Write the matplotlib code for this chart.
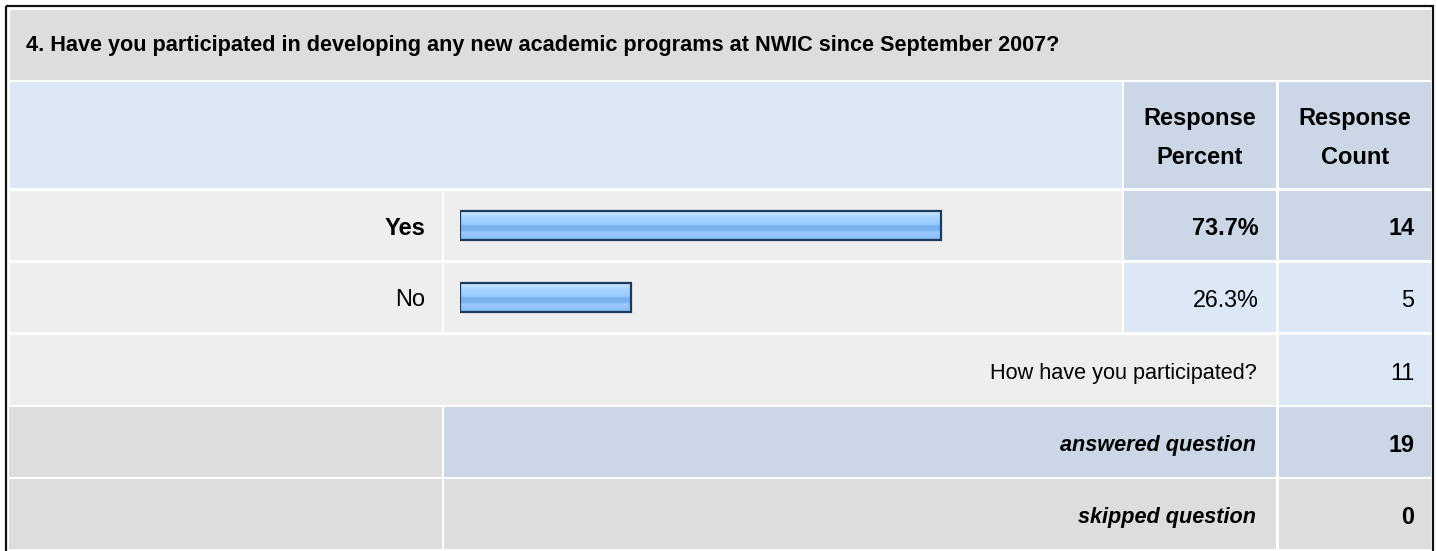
import matplotlib
matplotlib.use("Agg")
import matplotlib.pyplot as plt
from matplotlib.patches import Rectangle
from matplotlib.colors import LinearSegmentedColormap
import numpy as np

plt.rcParams["font.family"] = ["Liberation Sans", "DejaVu Sans"]

# survey data
title = "4. Have you participated in developing any new academic programs at NWIC since September 2007?"
answers = ["Yes", "No"]
percents = [73.7, 26.3]
counts = [14, 5]
other_label = "How have you participated?"
other_count = 11
answered = 19
skipped = 0

W, H = 1437, 551
fig = plt.figure(figsize=(W / 100, H / 100), dpi=100)
ax = fig.add_axes([0, 0, 1, 1])
ax.set_xlim(0, W)
ax.set_ylim(H, 0)
ax.axis("off")

GREY = "#dddddd"
LIGHT = "#eeeeee"
BLUE1 = "#dce8f5"
BLUE2 = "#cbd7e6"
FS = 15.6      # title / long labels
FS_HDR = 17    # column headers
FS_NUM = 16.8  # numbers
FS_LAB = 17    # Yes / No


def cell(x0, x1, y0, y1, c):
    ax.add_patch(Rectangle((x0, y0), x1 - x0, y1 - y0, facecolor=c, edgecolor="none"))


# column edges
cL = (10, 442)
cC = (444, 1122)
cP = (1124, 1276)
cN = (1279, 1431)

# title row
cell(10, 1431, 10, 80, GREY)
ax.text(26, 46, title, fontsize=FS, fontweight="bold", ha="left", va="center")

# header row
cell(10, 1122, 82, 188, BLUE1)
cell(*cP, 82, 188, BLUE2)
cell(*cN, 82, 188, BLUE2)
for (x0, x1), l1, l2 in [(cP, "Response", "Percent"), (cN, "Response", "Count")]:
    ax.text((x0 + x1) / 2, 119, l1, fontsize=FS_HDR, fontweight="bold", ha="center", va="center")
    ax.text((x0 + x1) / 2, 157, l2, fontsize=FS_HDR, fontweight="bold", ha="center", va="center")

# answer rows
row_y = [(191, 260), (263, 332)]
for i, (lab, p, n) in enumerate(zip(answers, percents, counts)):
    y0, y1 = row_y[i]
    yc = (y0 + y1) / 2 + 3
    bold = "bold" if i == 0 else "normal"
    vc = BLUE2 if i == 0 else BLUE1
    cell(*cL, y0, y1, LIGHT)
    cell(*cC, y0, y1, LIGHT)
    cell(*cP, y0, y1, vc)
    cell(*cN, y0, y1, vc)
    ax.text(425, yc, lab, fontsize=FS_LAB, fontweight=bold, ha="right", va="center")
    ax.text(1259, yc, f"{p:.1f}%", fontsize=FS_NUM, fontweight=bold, ha="right", va="center")
    ax.text(1414, yc, f"{n}", fontsize=FS_NUM, fontweight=bold, ha="right", va="center")

# other row
cell(10, 1276, 335, 405, LIGHT)
cell(*cN, 335, 405, BLUE1)
ax.text(1257, 373, other_label, fontsize=FS, ha="right", va="center")
ax.text(1414, 373, f"{other_count}", fontsize=FS_NUM, ha="right", va="center")

# summary rows
for (y0, y1), txt, val, mid in [((407, 477), "answered question", answered, BLUE2),
                                ((479, 549), "skipped question", skipped, GREY)]:
    yc = (y0 + y1) / 2 + 3
    cell(9, 442, y0, y1, GREY)
    cell(444, 1276, y0, y1, mid)
    cell(*cN, y0, y1, mid)
    ax.text(1256, yc, txt, fontsize=FS, fontweight="bold", style="italic", ha="right", va="center")
    ax.text(1414, yc, f"{val}", fontsize=FS_NUM, fontweight="bold", ha="right", va="center")

# outer frame
ax.add_patch(Rectangle((5.5, 5.5), 1433 - 5.5, 560, facecolor="none",
                       edgecolor="#111111", linewidth=1.6, clip_on=False))

# bars in their own axes: x in percent
bx0, bw = 460, 652
by0, by1 = 190, 333
bax = fig.add_axes([bx0 / W, 1 - by1 / H, bw / W, (by1 - by0) / H])
bax.axis("off")
grad = LinearSegmentedColormap.from_list("bar", [
    (0.0, "#cde8ff"), (0.12, "#b8ddff"), (0.25, "#a2d2ff"), (0.45, "#98ccff"),
    (0.52, "#78b0f0"), (0.68, "#7cb3f2"), (0.72, "#9bcbff"), (0.9, "#8fc3fb"), (1.0, "#84bcf5")])
ypos = np.arange(len(answers))
bh = 0.405
bars = bax.barh(ypos, percents, height=bh, left=0, color="#98ccff",
                edgecolor="#1e3a5c", linewidth=1.6)
for b in bars:
    img = bax.imshow(np.linspace(0, 1, 64).reshape(-1, 1), cmap=grad, aspect="auto",
                     extent=(b.get_x(), b.get_x() + b.get_width(),
                             b.get_y() + b.get_height(), b.get_y()),
                     zorder=b.get_zorder() - 0.1, interpolation="bilinear")
    img.set_clip_path(b)
    b.set_facecolor("none")
bax.set_xlim(0, 100)
bax.set_ylim(len(answers) - 0.5, -0.5)

fig.savefig("out.png", dpi=100)
